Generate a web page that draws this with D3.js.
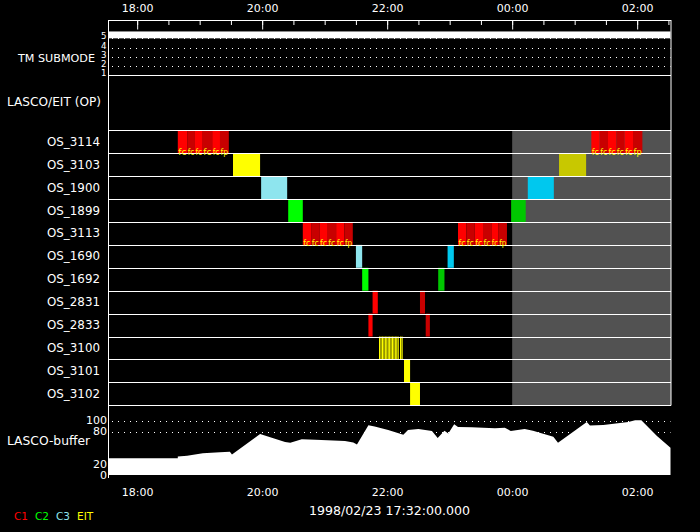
<!DOCTYPE html>
<html>
<head>
<meta charset="utf-8">
<script src="https://cdn.jsdelivr.net/npm/d3@7"></script>
<style>
body{margin:0;background:#000}
svg{display:block}
text{font-family:"DejaVu Sans";fill:#fff}
</style>
</head>
<body>
<div class="module"></div>
<script>
// observation programs, top to bottom
const rows = ["OS_3114","OS_3103","OS_1900","OS_1899","OS_3113","OS_1690","OS_1692","OS_2831","OS_2833","OS_3100","OS_3101","OS_3102"];

// [row, start, end, telescope, shade(0 bright / 1 dim), label]
const exposures = [
	["OS_3114","18:39","18:48","C1",0,"fc"],["OS_3114","18:48","18:55:30","C1",1,"fc"],["OS_3114","18:55:30","19:03","C1",0,"fc"],
	["OS_3114","19:03","19:12","C1",1,"fc"],["OS_3114","19:12","19:19:30","C1",0,"fc"],["OS_3114","19:19:30","19:28","C1",1,"fp"],
	["OS_3114","01:16","01:24","C1",0,"fc"],["OS_3114","01:24","01:32","C1",1,"fc"],["OS_3114","01:32","01:40","C1",0,"fc"],
	["OS_3114","01:40","01:48","C1",1,"fc"],["OS_3114","01:48","01:56","C1",0,"fc"],["OS_3114","01:56","02:05","C1",1,"fp"],
	["OS_3103","19:32","19:58","EIT",0,""],["OS_3103","00:45","01:11","EIT",1,""],
	["OS_1900","19:59","20:24","C3",0,""],["OS_1900","00:15","00:40","C3",1,""],
	["OS_1899","20:25","20:39","C2",0,""],["OS_1899","23:59","00:13","C2",1,""],
	["OS_3113","20:39","20:47","C1",0,"fc"],["OS_3113","20:47","20:55","C1",1,"fc"],["OS_3113","20:55","21:03","C1",0,"fc"],
	["OS_3113","21:03","21:11","C1",1,"fc"],["OS_3113","21:11","21:19","C1",0,"fc"],["OS_3113","21:19","21:27","C1",1,"fp"],
	["OS_3113","23:08","23:16","C1",0,"fc"],["OS_3113","23:16","23:24","C1",1,"fc"],["OS_3113","23:24","23:32","C1",0,"fc"],
	["OS_3113","23:32","23:40","C1",1,"fc"],["OS_3113","23:40","23:47","C1",0,"fc"],["OS_3113","23:47","23:55","C1",1,"fp"],
	["OS_1690","21:30","21:36","C3",0,""],["OS_1690","22:58","23:04","C3",1,""],
	["OS_1692","21:36","21:42","C2",0,""],["OS_1692","22:49","22:55","C2",1,""],
	["OS_2831","21:46","21:51","C1",0,""],["OS_2831","22:31:30","22:36:20","C1",1,""],
	["OS_2833","21:42","21:46","C1",0,""],["OS_2833","22:37","22:41","C1",1,""],
	["OS_3100","21:52:10","21:53:35","EIT",0,""],["OS_3100","21:53:35","21:54:55","EIT",0,""],["OS_3100","21:54:55","21:56:20","EIT",0,""],
	["OS_3100","21:56:20","21:57:40","EIT",0,""],["OS_3100","21:57:40","21:59:05","EIT",0,""],["OS_3100","21:59:05","22:00:25","EIT",0,""],
	["OS_3100","22:00:25","22:01:50","EIT",0,""],["OS_3100","22:01:50","22:03:10","EIT",0,""],["OS_3100","22:03:10","22:04:35","EIT",0,""],
	["OS_3100","22:04:35","22:05:55","EIT",0,""],["OS_3100","22:05:55","22:07:15","EIT",0,""],["OS_3100","22:07:15","22:08:40","EIT",0,""],
	["OS_3100","22:08:40","22:10:00","EIT",0,""],["OS_3100","22:10:00","22:11:25","EIT",0,""],
	["OS_3100","22:12:20","22:13:45","EIT",0,""],["OS_3100","22:13:45","22:15:10","EIT",0,""],
	["OS_3101","22:16:10","22:22","EIT",0,""],
	["OS_3102","22:22","22:31:30","EIT",0,""]
];

const bright = {C1:"#ff0000", C2:"#00ff00", C3:"#8ee5ee", EIT:"#ffff00"};
const dim = {C1:"#c80000", C2:"#00c800", C3:"#00c8ee", EIT:"#c8c800"};
const legendNames = ["C1","C2","C3","EIT"];

// TM submode
const tmTimes = ["17:32","02:32"];
const tmValues = [5,5];
const tmTicks = [1,2,3,4,5];

// LASCO buffer fill (%)
const bufTimes = ["17:32","18:39","18:39","18:48","19:03","19:19:30","19:29","19:31","19:58","20:22","20:27","20:38","20:51",
	"21:19:30","21:27:30","21:31","21:42","21:48","22:01","22:15:30","22:20","22:30","22:43","22:48:30","22:55","22:58:40",
	"23:04:20","23:08","23:21","23:43:30","23:53","23:58:40","00:12","00:20","00:39:30","00:44","01:11:40","01:14:40",
	"01:27:30","01:51:30","01:58","02:04","02:19","02:32"];
const bufValues = [31,31,34,35.6,40,42,43,38,75.5,61,59.5,66,65,62.6,60,56,91.5,89.6,83,74,83,85,81,68,81.6,76.7,
	93.4,88.4,88,86,87,81,85,81.6,70.6,59.5,97.6,91,92,97.6,101,101,72,50];
const bufTicks = [0,20,80,100];
const bufGrid = [80,100];

const startLabel = "1998/02/23 17:32:00.000";

function t(s){
	const p = s.split(':').map(Number);
	const day = p[0] < 12 ? 24 : 23;
	return new Date(Date.UTC(1998, 1, day, p[0], p[1], p[2] || 0));
}

drawChart(d3.select('.module').node());

function drawChart(rootDOM){
	const W = 700, H = 532;
	const L = 108, R = 670.5;

	const svg = d3.select(rootDOM).append('svg')
		.attr('width', W).attr('height', H)
		.style('background', '#000');

	const x = d3.scaleUtc().domain([t("17:32"), t("02:32")]).range([L, R]);
	const band = d3.scaleBand().domain(rows).range([130.3, 405.3]);
	const tmY = d3.scaleLinear().domain([1, 7]).range([75, 20]);
	const bufY = d3.scaleLinear().domain([0, 129]).range([475, 405]);

	// grey: after midnight
	svg.append('rect')
		.attr('x', x(t("00:00"))).attr('y', band.range()[0])
		.attr('width', R + 0.5 - x(t("00:00")))
		.attr('height', band.range()[1] - band.range()[0])
		.attr('fill', '#525252');

	// TM submode
	svg.selectAll('.tmgrid').data([2,3,4,5]).enter().append('line')
		.attr('x1', L + 4).attr('x2', R)
		.attr('y1', d => Math.round(tmY(d)) + 0.5).attr('y2', d => Math.round(tmY(d)) + 0.5)
		.attr('stroke', '#fff').attr('stroke-dasharray', '1,5');
	const tm = tmTimes.map((d, i) => ({t: t(d), v: tmValues[i]}));
	svg.append('rect')
		.attr('x', x(tm[0].t)).attr('width', x(tm[1].t) - x(tm[0].t))
		.attr('y', tmY(tm[0].v + 0.75)).attr('height', tmY(tm[0].v) - tmY(tm[0].v + 0.75))
		.attr('fill', '#fff');
	svg.selectAll('.tmlab').data(tmTicks).enter().append('text')
		.attr('x', 106.5).attr('y', d => tmY(d) - 1.5)
		.attr('text-anchor', 'end').attr('dominant-baseline', 'central')
		.attr('font-size', 8).attr('textLength', 5.5).attr('lengthAdjust', 'spacingAndGlyphs')
		.text(d => d);
	svg.append('text').attr('x', 95).attr('y', 61.5).attr('text-anchor', 'end')
		.attr('font-size', 11).attr('textLength', 77).attr('lengthAdjust', 'spacingAndGlyphs')
		.text('TM SUBMODE');
	svg.append('text').attr('x', 101).attr('y', 106).attr('text-anchor', 'end')
		.attr('font-size', 11.5).attr('textLength', 94).attr('lengthAdjust', 'spacingAndGlyphs')
		.text('LASCO/EIT (OP)');

	// exposures
	svg.selectAll('.exp').data(exposures).enter().append('rect')
		.attr('x', d => x(t(d[1])))
		.attr('width', d => x(t(d[2])) - x(t(d[1])) - (d[0] === "OS_3100" ? 0.3 : 0))
		.attr('y', d => band(d[0]))
		.attr('height', band.bandwidth())
		.attr('fill', d => (d[4] ? dim : bright)[d[3]]);

	// row lines
	const edges = rows.map(r => band(r)).concat([band.range()[1]]);
	svg.selectAll('.row').data(edges).enter().append('line')
		.attr('x1', L).attr('x2', R + 0.5)
		.attr('y1', d => Math.round(d) + 0.5).attr('y2', d => Math.round(d) + 0.5)
		.attr('stroke', '#fff');

	svg.selectAll('.fc').data(exposures.filter(d => d[5])).enter().append('text')
		.attr('x', d => x(t(d[1])) + 0.5)
		.attr('y', d => band(d[0]) + band.bandwidth() + 1.5)
		.attr('font-size', 9.5).style('fill', '#ffff00')
		.attr('textLength', d => x(t(d[2])) - x(t(d[1])) - 1.2)
		.attr('lengthAdjust', 'spacingAndGlyphs')
		.text(d => d[5]);

	svg.selectAll('.rowlab').data(rows).enter().append('text')
		.attr('x', 100).attr('y', d => band(d) + band.bandwidth() / 2)
		.attr('text-anchor', 'end').attr('dominant-baseline', 'central')
		.attr('font-size', 11.5).attr('textLength', 53).attr('lengthAdjust', 'spacingAndGlyphs')
		.text(d => d);

	// LASCO buffer
	svg.selectAll('.bgrid').data(bufGrid).enter().append('line')
		.attr('x1', L + 4).attr('x2', R)
		.attr('y1', d => Math.round(bufY(d)) + 0.5).attr('y2', d => Math.round(bufY(d)) + 0.5)
		.attr('stroke', '#fff').attr('stroke-dasharray', '1,5');
	const buf = bufTimes.map((d, i) => ({t: t(d), v: bufValues[i]}));
	const area = d3.area().x(d => x(d.t)).y0(bufY(0)).y1(d => bufY(d.v));
	svg.append('path').datum(buf).attr('d', area).attr('fill', '#fff');
	svg.selectAll('.blab').data(bufTicks).enter().append('text')
		.attr('x', 107).attr('y', d => bufY(d))
		.attr('text-anchor', 'end').attr('dominant-baseline', 'central')
		.attr('font-size', 10).attr('textLength', d => String(d).length * 7)
		.attr('lengthAdjust', 'spacingAndGlyphs').text(d => d);
	svg.append('text').attr('x', 90).attr('y', 445).attr('text-anchor', 'end')
		.attr('font-size', 11.5).attr('textLength', 83).attr('lengthAdjust', 'spacingAndGlyphs')
		.text('LASCO-buffer');

	// frame
	svg.append('line').attr('x1', L + 0.5).attr('x2', L + 0.5).attr('y1', 20).attr('y2', 478).attr('stroke', '#fff');
	svg.append('line').attr('x1', R + 0.5).attr('x2', R + 0.5).attr('y1', 20).attr('y2', 405.5).attr('stroke', '#fff');
	svg.append('line').attr('x1', L).attr('x2', R + 0.5).attr('y1', 75.5).attr('y2', 75.5).attr('stroke', '#fff');

	// top axis
	const fmt = d3.utcFormat("%H:%M");
	const topMinor = svg.append('g').attr('transform', 'translate(0,20.5)')
		.call(d3.axisTop(x).ticks(d3.utcMinute.every(30)).tickSize(-4.5).tickSizeOuter(0).tickFormat(''));
	topMinor.select('.domain').remove();
	const top = svg.append('g').attr('transform', 'translate(0,20.5)')
		.call(d3.axisTop(x).ticks(d3.utcHour.every(2)).tickSize(-9).tickSizeOuter(0).tickPadding(8.5).tickFormat(fmt));
	top.selectAll('line').attr('stroke', '#fff');
	topMinor.selectAll('line').attr('stroke', '#fff');
	top.select('.domain').attr('stroke', '#fff').attr('d', `M${L},0H${R + 0.5}`);
	top.selectAll('text').attr('font-size', 11).attr('font-family', 'DejaVu Sans').style('fill', '#fff');

	const bottom = svg.append('g').attr('transform', 'translate(0,475)')
		.call(d3.axisBottom(x).ticks(d3.utcHour.every(2)).tickSize(0).tickPadding(13).tickFormat(fmt));
	bottom.select('.domain').remove();
	bottom.selectAll('text').attr('font-size', 11).attr('font-family', 'DejaVu Sans').style('fill', '#fff');

	svg.append('text').attr('x', 389.5).attr('y', 515).attr('text-anchor', 'middle')
		.attr('font-size', 11.5).attr('textLength', 161).attr('lengthAdjust', 'spacingAndGlyphs')
		.text(startLabel);

	// legend
	const legX = [14, 35, 56, 77];
	svg.selectAll('.leg').data(legendNames).enter().append('text')
		.attr('x', (d, i) => legX[i]).attr('y', 520)
		.attr('font-size', 10.5).style('fill', d => bright[d])
		.text(d => d);
}
</script>
</body>
</html>
